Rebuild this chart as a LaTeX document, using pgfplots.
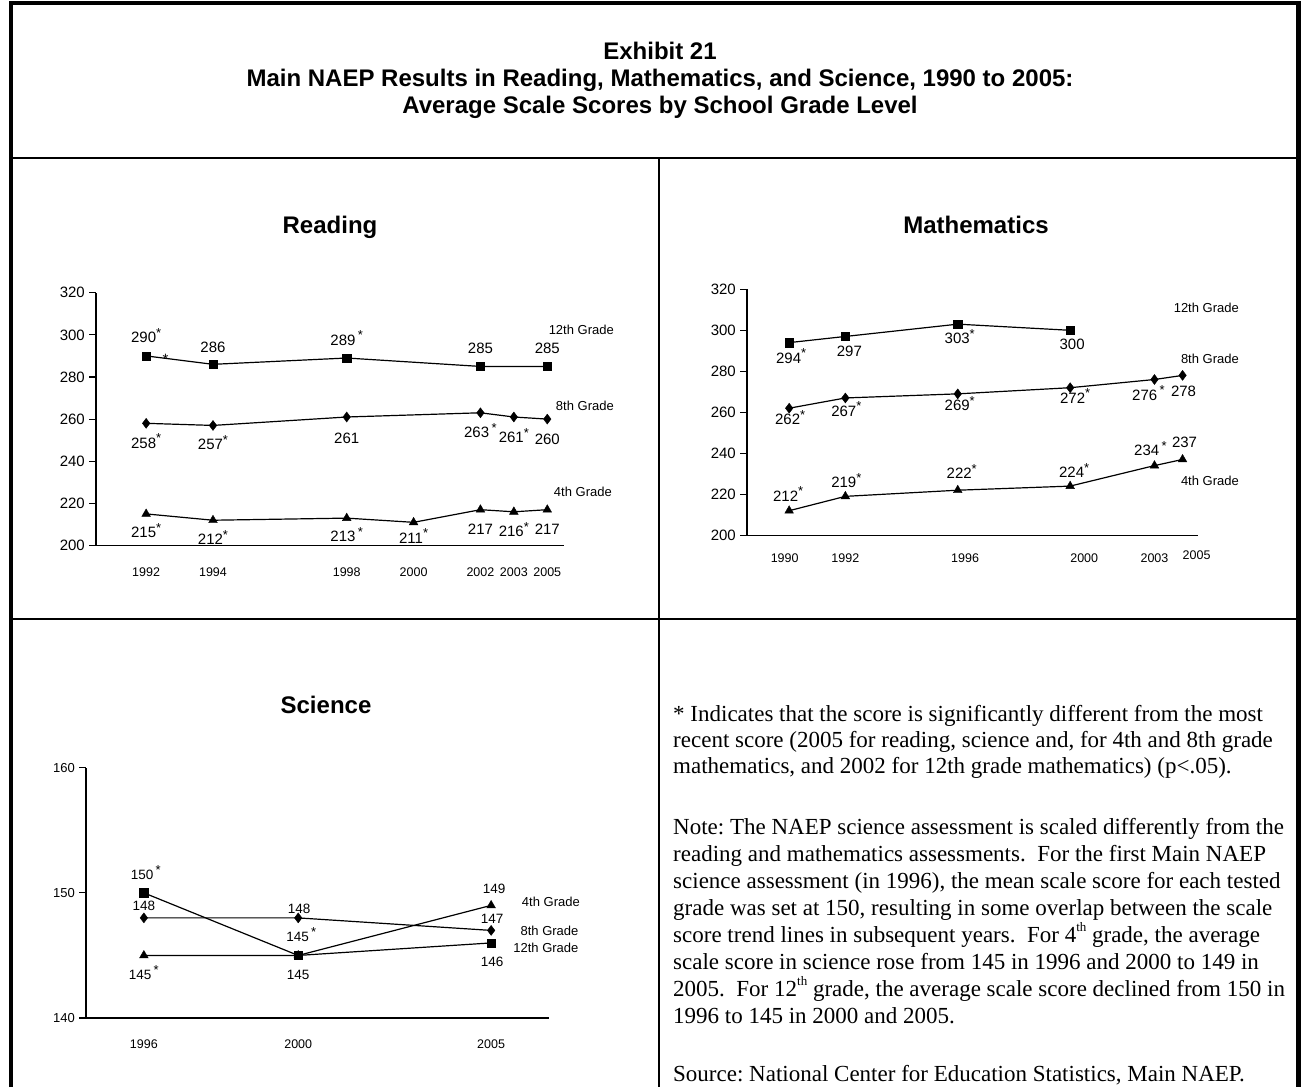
\documentclass[border=0pt]{standalone}
\usepackage{fontspec}
\setmainfont{Liberation Sans}
\newfontfamily\seriffont{Liberation Serif}
\usepackage{pgfplots}
\pgfplotsset{compat=1.18}
\protected\def\st{\raisebox{0.36em}{\fontsize{13}{13}\selectfont *}}
\protected\def\th{\raisebox{0.45em}{\fontsize{13}{13}\selectfont th}}
\newcommand\fs[1]{\fontsize{#1}{#1}\selectfont}
\frenchspacing

\pgfplotsset{
  naep/.style={
    scale only axis, anchor=south west,
    axis x line*=bottom, axis y line*=left,
    axis line style={line width=1.3pt, -},
    tick align=outside, major tick length=7pt,
    ytick style={line width=1.1pt, black},
    xtick style={draw=none},
    /pgf/number format/assume math mode=true,
    /pgf/number format/1000 sep={},
    clip=false,
    point meta=explicit symbolic,
    nodes near coords,
    nodes near coords align={anchor=base},
    visualization depends on={\thisrow{dy} \as \ldy},
    visualization depends on={\thisrow{dx} \as \ldx},
    nodes near coords style={anchor=base, yshift=\ldy, xshift=\ldx, inner sep=0pt, font=\fs{15}, text=black},
    yticklabel style={font=\fs{15}, anchor=east, inner sep=0pt, xshift=-4pt},
  },
  sq/.style={black, line width=1.2pt, mark=square*, mark size=4.2pt, mark options={solid, fill=black, line width=0.4pt}},
  di/.style={black, line width=1.2pt, mark=diamond*, mark size=5pt, mark options={solid, fill=black, line width=0.4pt}},
  tr/.style={black, line width=1.2pt, mark=triangle*, mark size=5pt, mark options={solid, fill=black, line width=0.4pt}},
}

\begin{document}
\begin{tikzpicture}[x=1pt, y=1pt]
\useasboundingbox (0,0) rectangle (1308,-1087);

% frame
\draw[line width=4.5pt] (11,-1087) -- (11,-3) -- (1298.5,-3) -- (1298.5,-1087);
\draw[line width=2.2pt] (11,-158) -- (1298.5,-158);
\draw[line width=2.2pt] (11,-619) -- (1298.5,-619);
\draw[line width=2.2pt] (659,-158) -- (659,-1087);

% title
\node[anchor=base, font=\bfseries\fs{24}] at (660,-59) {Exhibit 21};
\node[anchor=base, font=\bfseries\fs{24}] at (660,-86.5) {Main NAEP Results in Reading, Mathematics, and Science, 1990 to 2005:};
\node[anchor=base, font=\bfseries\fs{24}] at (660,-113) {Average Scale Scores by School Grade Level};

% ---------- Reading ----------
\node[anchor=base, font=\bfseries\fs{24}] at (330,-233) {Reading};
\begin{axis}[naep, at={(96pt,-545.5pt)}, width=468pt, height=252.8pt,
  xmin=-1.5, xmax=12.5, ymin=200, ymax=320,
  xtick={0,2,6,8,10,11,12}, xticklabels={1992,1994,1998,2000,2002,2003,2005},
  ytick={200,220,...,320},
  xticklabel style={font=\fs{12.5}, anchor=center, yshift=-19.5pt},
]
\addplot[sq] table[x=x, y=y, meta=lab] {
x  y   lab       dy    dx
0  290 {290\st}  13.5  0
2  286 {286}     11.6  0
6  289 {289\,\st} 13   0
10 285 {285}     12.6  0
12 285 {285}     12.6  0
};
\addplot[di] table[x=x, y=y, meta=lab] {
x  y   lab       dy    dx
0  258 {258\st}  -25   0
2  257 {257\st}  -24   0
6  261 {261}     -26.4 0
10 263 {263\,\st} -24.7 0
11 261 {261\st}  -25.4 0
12 260 {260}     -25   0
};
\addplot[tr] table[x=x, y=y, meta=lab] {
x  y   lab       dy    dx
0  215 {215\st}  -24   0
2  212 {212\st}  -24.7 0
6  213 {213\,\st} -23.4 0
8  211 {211\st}  -20.7 0
10 217 {217}     -25   0
11 216 {216\st}  -25   0
12 217 {217}     -25   0
};
\node[font=\fs{15}] at (axis cs:0.58,288.5) {*};
\end{axis}
\node[anchor=east, inner sep=0pt, font=\fs{13}] at (614,-330) {12th Grade};
\node[anchor=east, inner sep=0pt, font=\fs{13}] at (614,-406) {8th Grade};
\node[anchor=east, inner sep=0pt, font=\fs{13}] at (612,-492) {4th Grade};

% ---------- Mathematics ----------
\node[anchor=base, font=\bfseries\fs{24}] at (976,-233) {Mathematics};
\begin{axis}[naep, at={(747pt,-535.3pt)}, width=451pt, height=246pt,
  xmin=-1.5, xmax=14.55, ymin=200, ymax=320,
  xtick={-0.16,2,6.26,10.5,13}, xticklabels={1990,1992,1996,2000,2003},
  extra x ticks={14.5}, extra x tick labels={2005},
  extra x tick style={major tick length=0pt, xticklabel style={yshift=-4pt}},
  ytick={200,220,...,320},
  xticklabel style={font=\fs{12.5}, anchor=center, yshift=-15.7pt},
]
\addplot[sq] table[x=x, y=y, meta=lab] {
x  y   lab       dy    dx
0  294 {294\st}  -20.7 2
2  297 {297}     -20.4 4
6  303 {303\st}  -19.4 2
10 300 {300}     -19.4 2
};
\addplot[di] table[x=x, y=y, meta=lab] {
x  y   lab       dy    dx
0  262 {262\st}  -16.4 1
2  267 {267\st}  -18.4 1
6  269 {269\st}  -17.1 2
10 272 {272\st}  -15.4 5
13 276 {276\,\st} -20.7 -6
14 278 {278}     -20.7 1
};
\addplot[tr] table[x=x, y=y, meta=lab] {
x  y   lab       dy    dx
0  212 {212\st}  9.6   -1
2  219 {219\st}  8.6   1
6  222 {222\st}  11.6  4
10 224 {224\st}  8.6   4
13 234 {234\,\st} 9.9  -4
14 237 {237}     12.2  2
};
\end{axis}
\node[anchor=east, inner sep=0pt, font=\fs{13}] at (1239,-308) {12th Grade};
\node[anchor=east, inner sep=0pt, font=\fs{13}] at (1239,-359) {8th Grade};
\node[anchor=east, inner sep=0pt, font=\fs{13}] at (1239,-481) {4th Grade};

% ---------- Science ----------
\node[anchor=base, font=\bfseries\fs{24}] at (326,-713) {Science};
\begin{axis}[naep, at={(86pt,-1018pt)}, width=463pt, height=250.3pt,
  xmin=1994.5, xmax=2006.5, ymin=140, ymax=160,
  xtick={1996,2000,2005}, ytick={140,150,160},
  xticklabel style={font=\fs{12.5}, anchor=center, yshift=-18.7pt},
  yticklabel style={font=\fs{13}},
  nodes near coords style={font=\fs{13.5}},
]
\addplot[tr] table[x=x, y=y, meta=lab] {
x    y   lab       dy    dx
1996 145 {145\,\st} -23.9 0
2000 145 {145}     -23.9 0
2005 149 {149}     12    3
};
\addplot[di] table[x=x, y=y, meta=lab] {
x    y   lab       dy    dx
1996 148 {148}     6.9   0
2000 148 {148}     4.3   1
2005 147 {147}     6.8   1
};
\addplot[sq] table[x=x, y=y, meta=lab] {
x    y   lab       dy    dx
1996 150 {150\,\st} 13.5 2
2000 145 {145\,\st} 13.8 3
2005 146 {146}     -23.1 1
};
\end{axis}
\node[anchor=east, inner sep=0pt, font=\fs{13}] at (580,-901.7) {4th Grade};
\node[anchor=east, inner sep=0pt, font=\fs{13}] at (578.6,-930.7) {8th Grade};
\node[anchor=east, inner sep=0pt, font=\fs{13}] at (578.6,-948.3) {12th Grade};

% ---------- notes ----------
\begin{scope}[every node/.style={anchor=base west, inner sep=0pt, font=\seriffont\fs{23}}]
\node at (673,-721) {* Indicates that the score is significantly different from the most};
\node at (673,-747) {recent score (2005 for reading, science and, for 4th and 8th grade};
\node at (673,-773) {mathematics, and 2002 for 12th grade mathematics) (p<.05).};
\node at (673,-834) {Note: The NAEP science assessment is scaled differently from the};
\node at (673,-861) {reading and mathematics assessments.\ \ For the first Main NAEP};
\node at (673,-888) {science assessment (in 1996), the mean scale score for each tested};
\node at (673,-915) {grade was set at 150, resulting in some overlap between the scale};
\node at (673,-942) {score trend lines in subsequent years.\ \ For 4\th{} grade, the average};
\node at (673,-969) {scale score in science rose from 145 in 1996 and 2000 to 149 in};
\node at (673,-996) {2005.\ \ For 12\th{} grade, the average scale score declined from 150 in};
\node at (673,-1023) {1996 to 145 in 2000 and 2005.};
\node at (673,-1081) {Source: National Center for Education Statistics, Main NAEP.};
\end{scope}
\end{tikzpicture}
\end{document}
